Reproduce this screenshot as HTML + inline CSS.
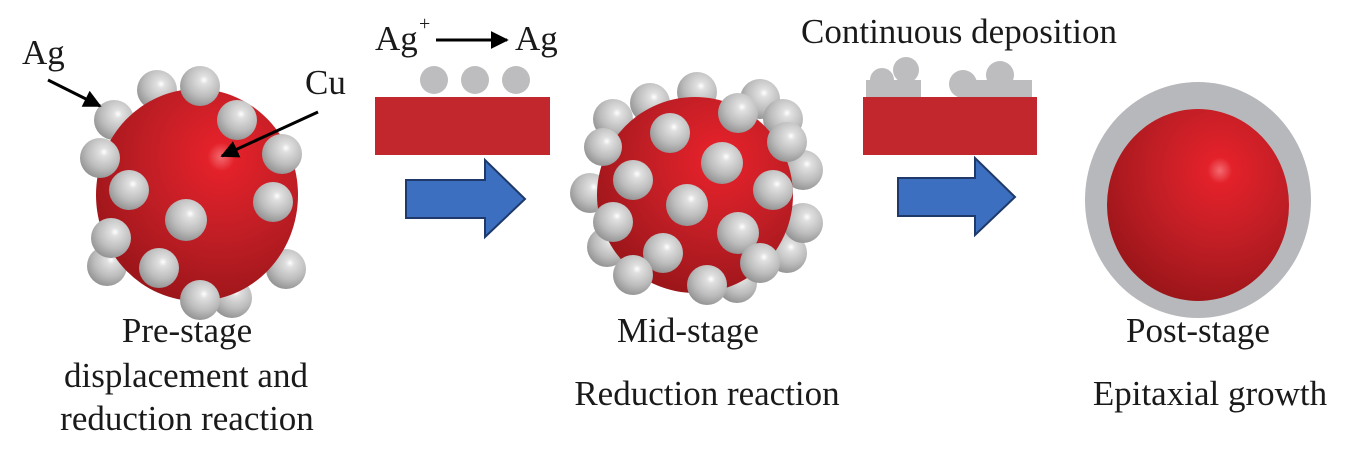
<!DOCTYPE html>
<html><head><meta charset="utf-8"><style>
html,body{margin:0;padding:0;background:#fff;}
svg{display:block;}
text{font-family:"Liberation Serif",serif;font-size:35px;fill:#1a1a1a;}
</style></head><body>
<svg width="1365" height="449" viewBox="0 0 1365 449" xmlns="http://www.w3.org/2000/svg">
<defs>
<radialGradient id="cu1" cx="0.62" cy="0.32" r="0.85">
<stop offset="0" stop-color="#f46a70"/><stop offset="0.08" stop-color="#e3212a"/><stop offset="0.45" stop-color="#c01e25"/><stop offset="0.85" stop-color="#9a1519"/><stop offset="1" stop-color="#6a0c0f"/>
</radialGradient>
<radialGradient id="ag" cx="0.6" cy="0.35" r="0.7">
<stop offset="0" stop-color="#ffffff"/><stop offset="0.15" stop-color="#e0e0e0"/><stop offset="0.6" stop-color="#bcbcbc"/><stop offset="1" stop-color="#8f8f8f"/>
</radialGradient>
<marker id="ah" viewBox="0 0 10 10" refX="9" refY="5" markerWidth="6" markerHeight="6" orient="auto"><path d="M0,0L10,5L0,10z" fill="#000"/></marker>
</defs>

<!-- Sphere 1 -->
<g>
<circle cx="157" cy="90" r="20" fill="url(#ag)"/>
<circle cx="114" cy="120" r="20" fill="url(#ag)"/>
<circle cx="286" cy="269" r="20" fill="url(#ag)"/>
<circle cx="107" cy="266" r="20" fill="url(#ag)"/>
<circle cx="232" cy="298" r="20" fill="url(#ag)"/>
<ellipse cx="197" cy="195" rx="101" ry="106" fill="url(#cu1)"/>
<circle cx="200" cy="86" r="20" fill="url(#ag)"/>
<circle cx="100" cy="158" r="20" fill="url(#ag)"/>
<circle cx="237" cy="120" r="20" fill="url(#ag)"/>
<circle cx="282" cy="154" r="20" fill="url(#ag)"/>
<circle cx="273" cy="202" r="20" fill="url(#ag)"/>
<circle cx="129" cy="190" r="20" fill="url(#ag)"/>
<circle cx="186" cy="220" r="21" fill="url(#ag)"/>
<circle cx="111" cy="238" r="20" fill="url(#ag)"/>
<circle cx="159" cy="268" r="20" fill="url(#ag)"/>
<circle cx="200" cy="300" r="20" fill="url(#ag)"/>
</g>
<line x1="48" y1="80" x2="100" y2="106" stroke="#000" stroke-width="3" marker-end="url(#ah)"/>
<line x1="318" y1="112" x2="222" y2="156" stroke="#000" stroke-width="3" marker-end="url(#ah)"/>
<text x="22" y="64">Ag</text>
<text x="305" y="94">Cu</text>

<!-- Panel 1 -->
<text x="375" y="50">Ag</text>
<text x="419" y="30" style="font-size:20px">+</text>
<line x1="436" y1="40" x2="507" y2="40" stroke="#000" stroke-width="3" marker-end="url(#ah)"/>
<text x="515" y="50">Ag</text>
<circle cx="434" cy="80" r="14" fill="#bdbdbf"/>
<circle cx="475" cy="80" r="14" fill="#bdbdbf"/>
<circle cx="516" cy="80" r="14" fill="#bdbdbf"/>
<rect x="375" y="97" width="175" height="58" fill="#c1272d"/>
<path d="M406,180 H485 V160 L525,199 L485,237 V218 H406 Z" fill="#3c6fbf" stroke="#1f3a6a" stroke-width="2"/>

<!-- Sphere 2 -->
<g>
<circle cx="650" cy="103" r="20" fill="url(#ag)"/>
<circle cx="697" cy="92" r="20" fill="url(#ag)"/>
<circle cx="760" cy="99" r="20" fill="url(#ag)"/>
<circle cx="783" cy="119" r="20" fill="url(#ag)"/>
<circle cx="613" cy="119" r="20" fill="url(#ag)"/>
<circle cx="803" cy="170" r="20" fill="url(#ag)"/>
<circle cx="607" cy="247" r="20" fill="url(#ag)"/>
<circle cx="737" cy="283" r="20" fill="url(#ag)"/>
<circle cx="787" cy="253" r="20" fill="url(#ag)"/>
<circle cx="590" cy="193" r="20" fill="url(#ag)"/>
<circle cx="803" cy="223" r="20" fill="url(#ag)"/>
<circle cx="695" cy="195" r="98" fill="url(#cu1)"/>
<circle cx="670" cy="133" r="20" fill="url(#ag)"/>
<circle cx="738" cy="113" r="20" fill="url(#ag)"/>
<circle cx="787" cy="142" r="20" fill="url(#ag)"/>
<circle cx="722" cy="163" r="21" fill="url(#ag)"/>
<circle cx="633" cy="180" r="20" fill="url(#ag)"/>
<circle cx="603" cy="147" r="19" fill="url(#ag)"/>
<circle cx="773" cy="190" r="20" fill="url(#ag)"/>
<circle cx="687" cy="205" r="21" fill="url(#ag)"/>
<circle cx="613" cy="222" r="20" fill="url(#ag)"/>
<circle cx="738" cy="233" r="21" fill="url(#ag)"/>
<circle cx="663" cy="253" r="20" fill="url(#ag)"/>
<circle cx="633" cy="275" r="20" fill="url(#ag)"/>
<circle cx="760" cy="263" r="20" fill="url(#ag)"/>
<circle cx="707" cy="285" r="20" fill="url(#ag)"/>
</g>

<!-- Panel 2 -->
<text x="959" y="43" text-anchor="middle">Continuous deposition</text>
<g fill="#bdbdbf">
<rect x="866" y="80" width="55" height="17"/>
<circle cx="882" cy="80" r="12"/>
<circle cx="906" cy="70" r="13"/>
<circle cx="963" cy="84" r="14"/>
<rect x="963" y="80" width="69" height="17"/>
<circle cx="1000" cy="75" r="14"/>
</g>
<rect x="863" y="97" width="174" height="58" fill="#c1272d"/>
<path d="M898,178 H975 V158 L1015,197 L975,235 V216 H898 Z" fill="#3c6fbf" stroke="#1f3a6a" stroke-width="2"/>

<!-- Sphere 3 -->
<ellipse cx="1198" cy="200" rx="113" ry="118" fill="#b7b8bb"/>
<ellipse cx="1198" cy="205" rx="91" ry="96" fill="url(#cu1)"/>

<!-- Labels -->
<text x="187" y="342" text-anchor="middle">Pre-stage</text>
<text x="186" y="387" text-anchor="middle">displacement and</text>
<text x="187" y="430" text-anchor="middle">reduction reaction</text>
<text x="688" y="342" text-anchor="middle">Mid-stage</text>
<text x="707" y="405" text-anchor="middle">Reduction reaction</text>
<text x="1198" y="342" text-anchor="middle">Post-stage</text>
<text x="1210" y="405" text-anchor="middle">Epitaxial growth</text>
</svg>
</body></html>
